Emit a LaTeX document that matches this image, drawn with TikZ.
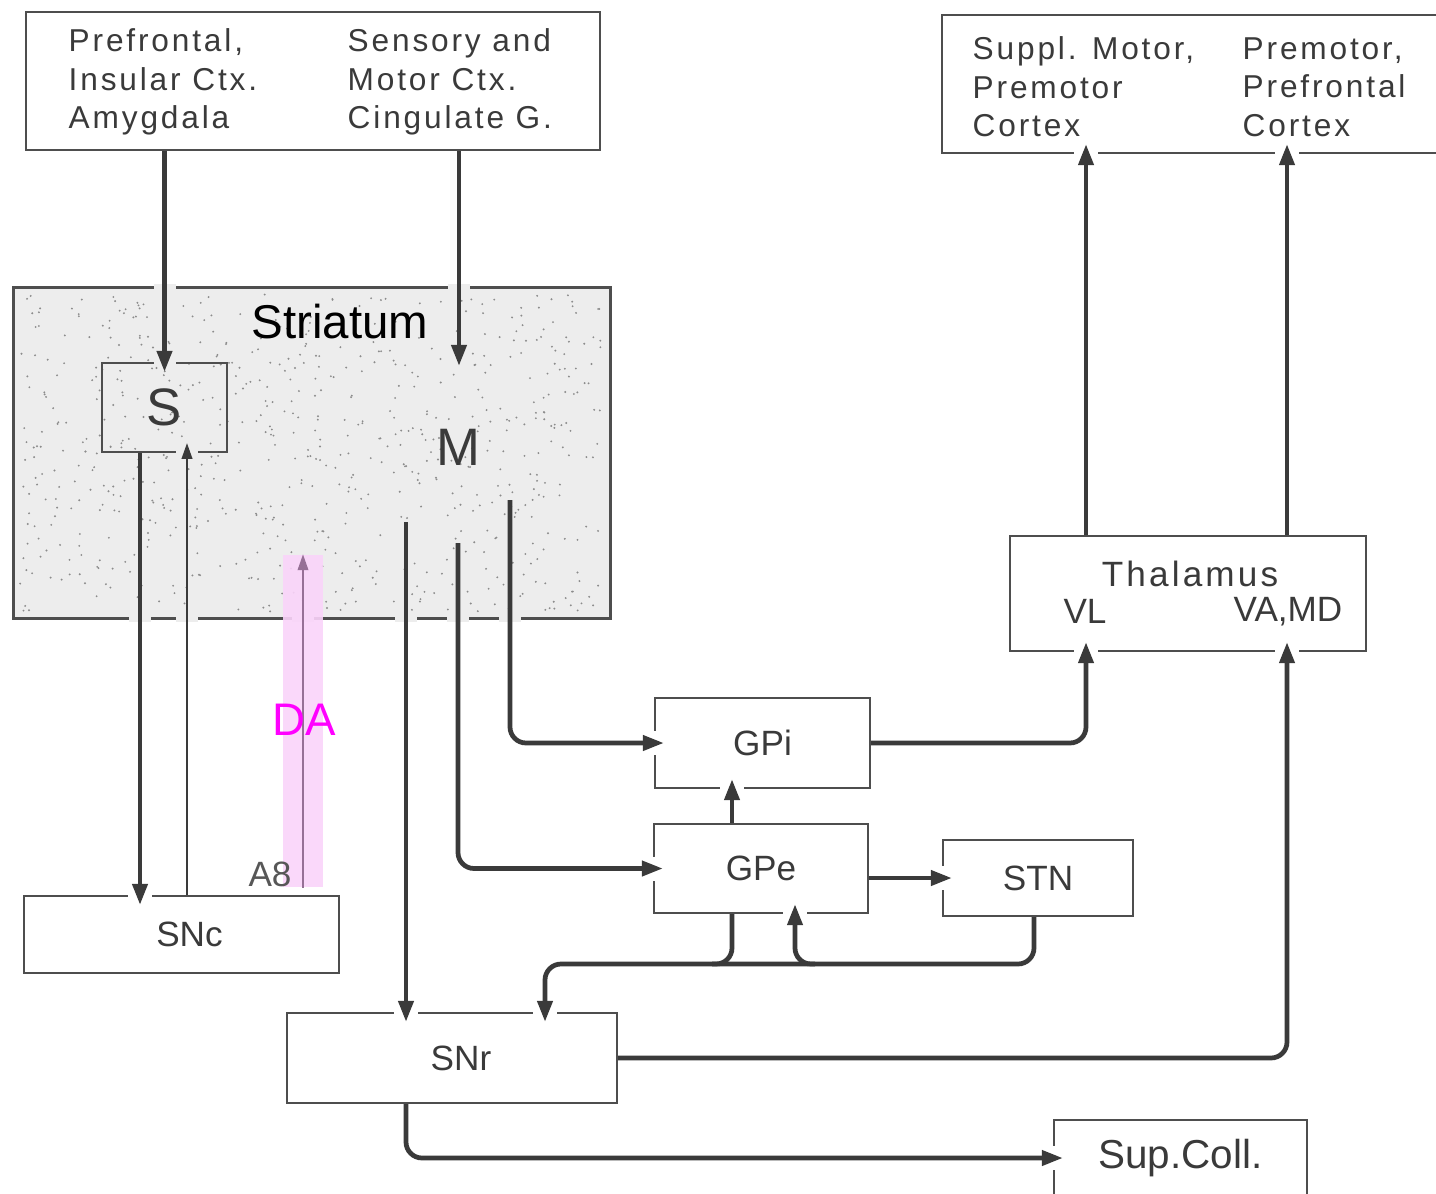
\documentclass[tikz,border=0pt]{standalone}
\usepackage{fontspec}
\setmainfont{Liberation Sans}
\newfontfamily\printfont[LetterSpace=9]{Liberation Sans}
\usetikzlibrary{arrows.meta,calc,positioning}

\definecolor{ink}{HTML}{3A3A3A}
\definecolor{boxline}{HTML}{4E4E4E}
\definecolor{stipple}{HTML}{EDEDED}
\definecolor{bandpink}{HTML}{FAD4FA}
\definecolor{daline}{RGB}{150,112,150}
\definecolor{damag}{RGB}{255,0,255}

\begin{document}
\begin{tikzpicture}[x=0.1mm, y=-0.1mm]
    % --- CONFIGURAZIONE ---
    \tikzset{
        box/.style={draw=boxline, line width=0.6pt, fill=white, inner sep=0pt},
        link/.style={draw=ink, line width=1.35pt, rounded corners=1.6mm},
        wire/.style={link, -{Triangle[length=6pt,width=4.2pt]}},
        thinwire/.style={draw=ink, line width=0.6pt, -{Triangle[length=4.5pt,width=3pt]}},
        into/.style={shorten >=-1mm},
        cutw/.style={draw=white, line width=1.4pt},
        cuts/.style={draw=stipple, line width=1.6pt},
        oldtxt/.style={text=ink, font=\printfont\fontsize{9}{10.9}\selectfont, align=left, inner sep=0pt},
        lbl/.style={text=ink, font=\fontsize{10}{12}\selectfont, inner sep=0pt}
    }

    \useasboundingbox (0,0) rectangle (1436,1194);

    % colonne dei collegamenti
    \coordinate (cSa) at (140,0);
    \coordinate (cSb) at (187,0);
    \coordinate (cDA) at (303,0);
    \coordinate (cGP) at (732,0);
    \coordinate (cRet) at (795,0);
    \coordinate (cStn) at (1034,0);
    \coordinate (cNr) at (545,0);
    \coordinate (cVL) at (1086,0);
    \coordinate (cVA) at (1287,0);
    \coordinate (bus) at (0,964);
    \coordinate (mIn) at (459,366);
    \coordinate (mR) at (406,522);
    \coordinate (mE) at (458,543);
    \coordinate (mI) at (510,500);
    \coordinate (busL) at (712,964);
    \coordinate (busR) at (815,964);

    % ===================================================
    % 1. STRIATUM
    % ===================================================
    \node[fill=stipple, inner sep=0pt, minimum width=59.6mm, minimum height=33mm] (str) at (312,453) {};
    \pgfmathsetseed{11}
    \foreach \i in {1,...,700} {
        \fill[black!45] ({20+584*rnd},{294+318*rnd}) circle[radius=0.3pt];
    }
    \draw[boxline, line width=0.9pt] (str.north west) rectangle (str.south east);
    \node[draw=boxline, line width=0.6pt, inner sep=0pt, minimum width=12.5mm, minimum height=8.9mm,
          text=ink, font=\printfont\fontsize{15}{18}\selectfont] (s) at (164.5,407.5) {S};
    \node[text=ink, font=\printfont\fontsize{15}{18}\selectfont] (m) at (458,447) {M};
    \node[font=\fontsize{13.5}{16}\selectfont] (strlab) at (340,322) {Striatum};

    \foreach \p in {str.north -| s.north, str.north -| mIn, s.north, s.south -| cSb,
                    str.south -| cSa, str.south -| cSb, str.south -| cDA,
                    str.south -| mR, str.south -| mE, str.south -| mI} {
        \draw[cuts] ($(\p)+(-11,0)$) -- ($(\p)+(11,0)$);
    }

    % ===================================================
    % 2. CORTECCIA E NUCLEI
    % ===================================================
    \node[box, minimum width=57.4mm, minimum height=13.8mm] (ctxL) at (313,81) {};
    \node[oldtxt, anchor=west] (ctxLa) at (68,82) {Prefrontal,\\Insular Ctx.\\Amygdala};
    \node[oldtxt, anchor=west] (ctxLb) at (347,82) {Sensory and\\Motor Ctx.\\Cingulate G.};

    \node[box, minimum width=51mm, minimum height=13.8mm] (ctxR) at (1197,84) {};
    \node[oldtxt, anchor=west] (ctxRa) at (972,87) {Suppl. Motor,\\Premotor\\Cortex};
    \node[oldtxt, anchor=west] (ctxRb) at (1242,87) {Premotor,\\Prefrontal\\Cortex};

    \node[box, minimum width=35.6mm, minimum height=11.5mm] (thal) at (1188,593.5) {};
    \node[lbl, font=\printfont\fontsize{10}{12}\selectfont] (thalT) at (1190,574) {Thalamus};
    \node[lbl] (thalVL) at (1085,611) {VL};
    \node[lbl] (thalVA) at (1288,612) {VA,MD};

    \node[box, lbl, minimum width=21.5mm, minimum height=9mm] (gpi) at (762.5,743) {GPi};
    \node[box, lbl, minimum width=21.4mm, minimum height=8.9mm] (gpe) at (761,868.5) {GPe};
    \node[box, lbl, minimum width=19mm, minimum height=7.6mm] (stn) at (1038,878) {STN};
    \node[box, lbl, minimum width=31.5mm, minimum height=7.7mm] (snc) at (181.5,934.5) {\hspace*{1.6mm}SNc};
    \node[box, lbl, minimum width=33mm, minimum height=9mm] (snr) at (452,1058) {\hspace*{1.8mm}SNr};
    \node[box, lbl, font=\fontsize{11.5}{14}\selectfont, minimum width=25.3mm, minimum height=7.6mm] (sc) at (1180.5,1158) {Sup.Coll.};

    % aperture nei bordi dove entrano le frecce
    \foreach \p in {snc.north -| cSa, snr.north -| mR, snr.north -| cNr, gpi.south -| cGP,
                    gpe.south -| cRet, thal.south -| cVL, thal.south -| cVA,
                    ctxR.south -| cVL, ctxR.south -| cVA} {
        \draw[cutw] ($(\p)+(-12,0)$) -- ($(\p)+(12,0)$);
    }
    \foreach \p in {gpi.west, gpe.west, stn.west, sc.west} {
        \draw[cutw] ($(\p)+(0,-12)$) -- ($(\p)+(0,12)$);
    }

    % ===================================================
    % 3. DOPAMINA (A8)
    % ===================================================
    \node[fill=bandpink, opacity=0.9, inner sep=0pt, minimum width=4mm, minimum height=33.2mm] (band) at (303,721) {};
    \draw[thinwire, draw=daline, line width=0.5pt] (band.south) -- (band.north);
    \node[lbl, text=ink!85] (a8) at (270,874) {A8};
    \node[font=\fontsize{13}{15}\selectfont, text=damag, inner sep=0pt] (da) at (304,720) {DA};

    % ===================================================
    % 4. COLLEGAMENTI
    % ===================================================
    % corteccia -> striato
    \draw[wire, into] (ctxL.south -| s.north) -- (s.north);
    \draw[wire] (ctxL.south -| mIn) -- (mIn);
    % S <-> SNc
    \draw[wire, into] (s.south -| cSa) -- (snc.north -| cSa);
    \draw[thinwire, into] (snc.north -| cSb) -- (s.south -| cSb);
    % uscite di M
    \draw[wire, into] (mR) -- (snr.north -| mR);
    \draw[wire, into] (mE) |- (gpe.west);
    \draw[wire, into] (mI) |- (gpi.west);
    % pallido e subtalamo
    \draw[wire, into] (gpe.north -| cGP) -- (gpi.south -| cGP);
    \draw[wire, into] (gpe.east |- stn.west) -- (stn.west);
    \draw[wire, into] (gpi.east) -| (thal.south -| cVL);
    \draw[wire, into] (stn.south -| cStn) |- (bus -| cNr) -- (snr.north -| cNr);
    \draw[wire, into] (busR) -| (gpe.south -| cRet);
    \draw[link] (gpe.south -| cGP) |- (busL);
    % uscite di SNr
    \draw[wire, into] (snr.east) -| (thal.south -| cVA);
    \draw[wire, into] (snr.south -| mR) |- (sc.west);
    % talamo -> corteccia
    \draw[wire, into] (thal.north -| cVL) -- (ctxR.south -| cVL);
    \draw[wire, into] (thal.north -| cVA) -- (ctxR.south -| cVA);

\end{tikzpicture}
\end{document}
